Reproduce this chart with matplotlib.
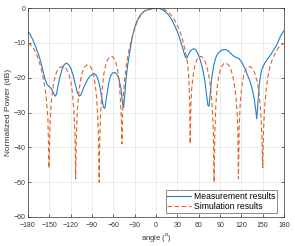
import matplotlib

matplotlib.use("Agg")
import matplotlib.pyplot as plt

plt.rcParams["font.family"] = ["Liberation Sans", "DejaVu Sans"]

meas_angle = [
    -180, -177, -174, -171, -168, -165, -162, -159, -156, -153, -150, -147,
    -144, -142, -140, -138, -135, -132, -129, -126, -123, -120, -117, -114,
    -111, -108, -106, -103, -100, -97, -94, -91, -88, -85, -82, -79, -76,
    -74, -72, -70, -67, -64, -61, -58, -55, -52, -49, -47, -45.5, -44, -42,
    -40, -38, -36, -33, -30, -27, -24, -21, -18, -15, -12, -9, -6, -3, 0, 3,
    6, 9, 12, 15, 18, 21, 24, 27, 30, 33, 36, 39, 41, 43, 45, 48, 51, 54, 57,
    60, 63, 66, 69, 71, 73, 74.5, 76, 78, 81, 84, 87, 90, 93, 96, 99, 102,
    105, 108, 111, 114, 117, 120, 123, 126, 129, 132, 135, 138, 140, 141.5,
    143, 145, 148, 151, 154, 157, 160, 163, 166, 169, 172, 175, 178, 180,
]
meas_db = [
    -6.8, -7.5, -8.8, -10.2, -11.8, -13.5, -15.5, -18.0, -20.5, -22.0, -22.6,
    -23.2, -24.5, -25.3, -24.8, -22.5, -19.6, -17.5, -16.2, -15.8, -16.2,
    -17.2, -19.0, -21.5, -24.0, -25.3, -25.0, -23.5, -22.0, -20.8, -19.8,
    -19.2, -18.9, -19.0, -20.2, -22.5, -26.0, -28.5, -28.8, -26.0, -22.0,
    -19.5, -18.6, -18.5, -19.0, -20.5, -23.5, -27.5, -28.5, -25.0, -20.0,
    -16.5, -13.8, -11.3, -8.0, -5.5, -3.8, -2.6, -1.7, -1.1, -0.7, -0.5,
    -0.4, -0.2, -0.1, 0.0, 0.0, -0.2, -0.5, -0.9, -1.4, -2.1, -3.0, -4.1,
    -5.4, -6.8, -8.5, -10.5, -12.6, -14.0, -14.4, -13.6, -12.4, -11.8,
    -11.7, -12.3, -13.6, -15.5, -18.0, -21.5, -25.0, -28.0, -28.2, -25.0,
    -20.5, -16.5, -14.2, -13.0, -12.4, -12.0, -11.9, -12.0, -12.4, -13.0,
    -13.6, -14.0, -14.3, -14.6, -15.4, -16.5, -17.8, -19.5, -21.0, -23.0,
    -26.0, -29.0, -31.8, -28.0, -22.0, -18.0, -16.5, -15.5, -14.5, -13.8,
    -12.8, -11.8, -10.8, -9.5, -8.0, -7.0, -6.5,
]

# --- simulated pattern ---
sim_angle = [
    -180, -177, -174, -171, -168, -165, -162, -159, -156, -154, -152, -150.5,
    -149, -147, -144, -141, -138, -135, -132, -129, -126, -123, -120, -117.5,
    -115.5, -114, -113, -112, -110.5, -108.5, -106, -103, -100, -97, -94,
    -91, -88, -85.5, -83.5, -82, -80.8, -80, -79.2, -78, -76, -73.5, -70.5,
    -67.5, -64.5, -61.5, -58.5, -56, -53.5, -51.5, -49.8, -48.8, -48, -47.2,
    -46, -44, -42, -40, -38, -36, -33, -30, -27, -24, -21, -18, -15, -12, -9,
    -6, -3, 0, 3, 6, 9, 12, 15, 18, 21, 24, 27, 30, 33, 36, 39, 42, 44.5,
    46.2, 47.2, 48, 48.8, 50, 52, 54.5, 57.5, 61, 64, 67, 70, 73, 75.5, 77.5,
    79.2, 80.5, 81.6, 82.6, 84, 86, 88.5, 91.5, 95, 98.5, 102, 105, 108,
    110.5, 112.5, 114, 115, 115.8, 116.8, 118, 120, 122.5, 125.5, 129, 132.5,
    136, 139, 142, 144.5, 146.5, 148, 149, 150, 151, 152.5, 154.5, 157, 160,
    163, 166, 169, 172, 175, 178, 180,
]
sim_db = [
    -10.1, -10.4, -11.1, -12.0, -13.3, -15.0, -17.0, -19.6, -23.0, -26.5,
    -32.0, -46.0, -33.0, -26.5, -21.5, -19.0, -17.6, -17.0, -16.8, -16.9,
    -17.5, -18.8, -21.0, -24.5, -29.5, -36.0, -49.0, -36.0, -29.0, -24.0,
    -20.5, -18.0, -16.8, -16.3, -16.4, -17.2, -19.0, -22.0, -26.0, -31.0,
    -38.0, -50.0, -38.0, -30.0, -24.0, -19.0, -16.0, -14.6, -14.0, -13.9,
    -14.6, -16.0, -18.5, -22.0, -27.0, -32.0, -39.0, -31.0, -25.0, -20.0,
    -16.8, -14.2, -12.0, -10.2, -7.8, -5.8, -4.2, -2.9, -1.9, -1.2, -0.7,
    -0.35, -0.15, -0.05, 0.0, 0.0, 0.0, -0.05, -0.2, -0.45, -0.8, -1.3, -2.0,
    -2.8, -3.8, -5.0, -6.4, -8.2, -10.5, -13.2, -16.0, -20.5, -27.0, -39.0,
    -29.0, -23.5, -19.5, -16.5, -14.8, -13.9, -13.9, -14.5, -15.9, -18.2,
    -21.0, -24.5, -29.0, -35.0, -50.0, -36.0, -28.0, -22.5, -19.0, -17.0,
    -16.0, -15.8, -16.3, -17.5, -19.6, -22.5, -26.0, -30.0, -36.0, -49.0,
    -35.0, -28.5, -23.5, -20.0, -17.8, -16.9, -16.8, -17.4, -18.8, -21.0,
    -24.0, -28.0, -33.0, -38.0, -45.8, -36.0, -29.0, -24.0, -20.0, -17.0,
    -15.0, -13.6, -12.4, -11.4, -10.7, -10.3, -10.1,
]

x_ticks = list(range(-180, 181, 30))
y_ticks = list(range(-60, 1, 10))

BLUE = "#1f80c6"
ORANGE = "#e0622b"
AXC = "#333333"

fig = plt.figure(figsize=(2.95, 2.46), dpi=100)
ax = fig.add_axes([0.095, 0.118, 0.868, 0.849])

ax.plot(meas_angle, meas_db, color=BLUE, lw=0.8, label="Measurement results")
ax.plot(sim_angle, sim_db, color=ORANGE, lw=0.8, ls=(0, (4, 2.5)),
        label="Simulation results")

ax.set_xlim(-180, 180)
ax.set_ylim(-60, 0)
ax.set_xticks(x_ticks)
ax.set_yticks(y_ticks)
ax.grid(True, color="#e3e3e3", lw=0.5)
ax.set_axisbelow(True)
ax.tick_params(direction="in", length=2, width=0.5, labelsize=5,
               colors=AXC, top=True, right=True)
ax.tick_params(axis="x", pad=3.5)
ax.tick_params(axis="y", pad=2)
for s in ax.spines.values():
    s.set_color(AXC)
    s.set_linewidth(0.5)

ax.set_xlabel(r"angle ($^{\rm o}$)", fontsize=5.5, color=AXC, labelpad=1.5)
ax.set_ylabel("Normalized Power (dB)", fontsize=6, color=AXC, labelpad=1)

leg = ax.legend(loc="lower right", bbox_to_anchor=(0.973, 0.019),
                fontsize=6.2, frameon=True, fancybox=False,
                handlelength=2.8, borderpad=0.2, labelspacing=0.15,
                handletextpad=0.3, borderaxespad=0.0)
leg.get_frame().set_edgecolor(AXC)
leg.get_frame().set_linewidth(0.5)

fig.savefig("out.png", dpi=100)
